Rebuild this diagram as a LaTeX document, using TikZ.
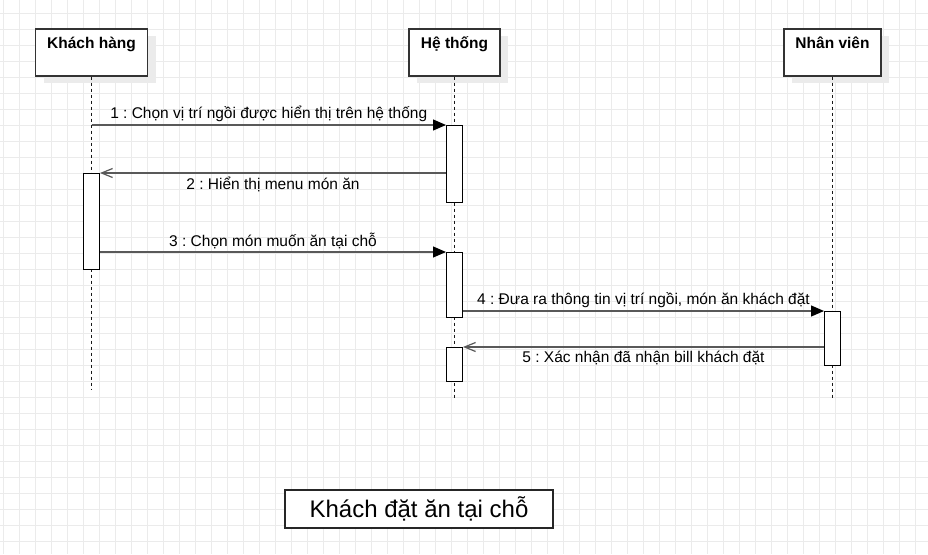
\documentclass[tikz,border=0pt]{standalone}
\usepackage{fontspec}
\setmainfont{Liberation Sans}
\frenchspacing
\usetikzlibrary{calc,arrows.meta,shadows}

\tikzset{
  gridline/.style={line width=1pt, color=black!8},
  actor/.style={draw=black!80, line width=1.2pt, fill=white, minimum width=#1, minimum height=47pt, inner sep=0pt,
    drop shadow={shadow xshift=8pt, shadow yshift=-7pt, fill=black!8, opacity=1}},
  actorname/.style={font=\fontsize{15.5}{18}\selectfont\bfseries, anchor=base, inner sep=0pt},
  lifeline/.style={line width=1.2pt, color=black!90, dash pattern=on 3pt off 3pt},
  act/.style={draw=black, line width=1pt, fill=white, minimum width=16pt, minimum height=#1, inner sep=0pt, anchor=north},
  msg/.style={line width=1.2pt, color=black!65},
  call/.style={msg, -{Triangle[length=13pt, width=11pt, black]}},
  reply/.style={msg, -{Straight Barb[length=11pt, width=9pt]}},
  msglabel/.style={font=\fontsize{15.5}{18}\selectfont, text=black, inner sep=3pt},
  titlebox/.style={draw=black!85, line width=1.2pt, fill=white, minimum width=268pt, minimum height=38pt, font=\fontsize{24}{28}\selectfont}
}

\begin{document}
\begin{tikzpicture}[x=1pt, y=-1pt]
		%%%%% START %%%%%
		
		\useasboundingbox (0,0) rectangle (928,554);
		\fill[white] (0,0) rectangle (928,554);
		\foreach \gx in {3,19,...,915} \draw[gridline] (\gx,0) -- (\gx,554);
		\foreach \gy in {13,29,...,541} \draw[gridline] (0,\gy) -- (928,\gy);
		
		\node[actor=112pt] (kh) at (91.5,52.5) {};
		\node[actor=91pt] (ht) at (454.5,52.5) {};
		\node[actor=97pt] (nv) at (832.5,52.5) {};
		\node[actorname] (khname) at ($(kh.north)+(0,20)$) {Khách hàng};
		\node[actorname] (htname) at ($(ht.north)+(0,20)$) {Hệ thống};
		\node[actorname] (nvname) at ($(nv.north)+(0,20)$) {Nhân viên};
		
		\coordinate (khend) at (91.5,390);
		\coordinate (htend) at (454.5,398);
		\coordinate (nvend) at (832.5,398);
		\draw[lifeline] (kh.south) -- (khend);
		\draw[lifeline] (ht.south) -- (htend);
		\draw[lifeline] (nv.south) -- (nvend);
		
		\node[act=77pt] (ht1) at (454.5,125) {};
		\node[act=96pt] (kh1) at (91.5,173) {};
		\node[act=65pt] (ht2) at (454.5,252) {};
		\node[act=54pt] (nv1) at (832.5,311) {};
		\node[act=34pt] (ht3) at (454.5,347) {};
		
		\coordinate (m1from) at (91.5,125);
		\draw[call] (m1from) -- (ht1.north west) node[msglabel, midway, above] {1 : Chọn vị trí ngồi được hiển thị trên hệ thống};
		\draw[reply] (ht1.west |- kh1.north) -- (kh1.north east) node[msglabel, midway, below] {2 : Hiển thị menu món ăn};
		\draw[call] (kh1.east |- ht2.north) -- (ht2.north west) node[msglabel, midway, above] {3 : Chọn món muốn ăn tại chỗ};
		\draw[call] (ht2.east |- nv1.north) -- (nv1.north west) node[msglabel, midway, above] {4 : Đưa ra thông tin vị trí ngồi, món ăn khách đặt};
		\draw[reply] (nv1.west |- ht3.north) -- (ht3.north east) node[msglabel, midway, below] {5 : Xác nhận đã nhận bill khách đặt};
		
		\node[titlebox] (tieude) at (419,509) {Khách đặt ăn tại chỗ};
		
		%%%%% END %%%%%
	\end{tikzpicture}
\end{document}
